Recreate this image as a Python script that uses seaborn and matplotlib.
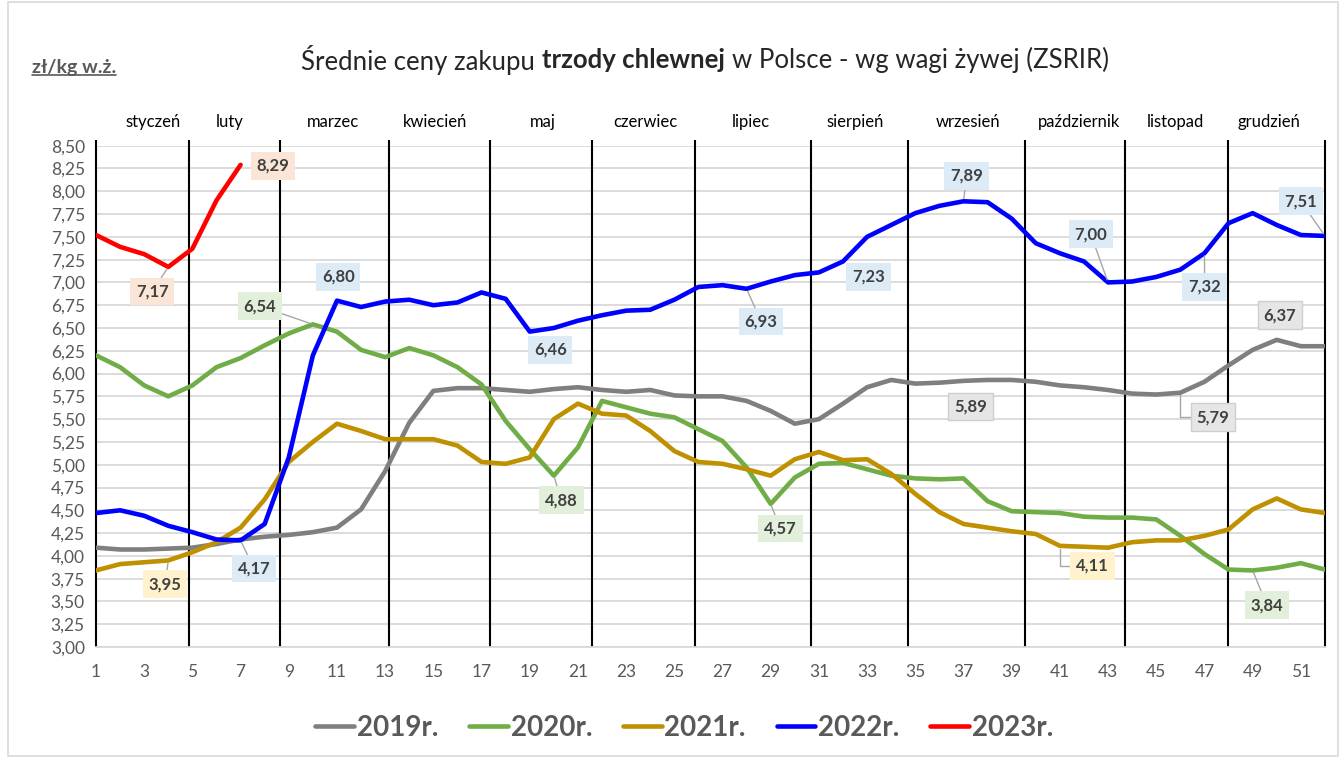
import numpy as np
import pandas as pd
import seaborn as sns
import matplotlib.pyplot as plt
from matplotlib.lines import Line2D
from matplotlib.patches import Rectangle
from matplotlib.ticker import FuncFormatter

# Tygodnie roku i średnie ceny (zł/kg w.ż.)
tygodnie = list(range(1, 53))

ceny_2019 = [4.09, 4.07, 4.07, 4.08, 4.09, 4.13, 4.18, 4.21, 4.23, 4.26,
             4.31, 4.51, 4.93, 5.46, 5.81, 5.84, 5.84, 5.82, 5.80, 5.83,
             5.85, 5.82, 5.80, 5.82, 5.76, 5.75, 5.75, 5.70, 5.59, 5.45,
             5.50, 5.67, 5.85, 5.93, 5.89, 5.90, 5.92, 5.93, 5.93, 5.91,
             5.87, 5.85, 5.82, 5.78, 5.77, 5.79, 5.91, 6.09, 6.26, 6.37,
             6.30, 6.30]
ceny_2020 = [6.20, 6.07, 5.87, 5.75, 5.87, 6.07, 6.17, 6.31, 6.44, 6.54,
             6.46, 6.26, 6.18, 6.28, 6.20, 6.07, 5.88, 5.48, 5.17, 4.88,
             5.19, 5.70, 5.63, 5.56, 5.52, 5.39, 5.26, 4.97, 4.57, 4.86,
             5.01, 5.02, 4.95, 4.88, 4.85, 4.84, 4.85, 4.60, 4.49, 4.48,
             4.47, 4.43, 4.42, 4.42, 4.40, 4.22, 4.02, 3.85, 3.84, 3.87,
             3.92, 3.85]
ceny_2021 = [3.84, 3.91, 3.93, 3.95, 4.04, 4.15, 4.31, 4.62, 5.03, 5.25,
             5.45, 5.37, 5.28, 5.28, 5.28, 5.21, 5.03, 5.01, 5.08, 5.50,
             5.67, 5.56, 5.54, 5.37, 5.15, 5.03, 5.01, 4.95, 4.88, 5.06,
             5.14, 5.05, 5.06, 4.90, 4.68, 4.48, 4.35, 4.31, 4.27, 4.24,
             4.11, 4.10, 4.09, 4.15, 4.17, 4.17, 4.22, 4.29, 4.51, 4.63,
             4.51, 4.47]
ceny_2022 = [4.47, 4.50, 4.44, 4.33, 4.26, 4.18, 4.17, 4.35, 5.08, 6.20,
             6.80, 6.73, 6.79, 6.81, 6.75, 6.78, 6.89, 6.82, 6.46, 6.50,
             6.58, 6.64, 6.69, 6.70, 6.81, 6.95, 6.97, 6.93, 7.01, 7.08,
             7.11, 7.23, 7.50, 7.63, 7.76, 7.84, 7.89, 7.88, 7.70, 7.43,
             7.32, 7.23, 7.00, 7.01, 7.06, 7.14, 7.32, 7.65, 7.76, 7.63,
             7.52, 7.51]
ceny_2023 = [7.52, 7.39, 7.31, 7.17, 7.37, 7.90, 8.29]

lata = ['2019r.', '2020r.', '2021r.', '2022r.', '2023r.']
kolory = ['#7F7F7F', '#70AD47', '#BF9000', '#0000FF', '#FF0000']
tla_etykiet = ['#E7E6E6', '#E2EFDA', '#FFF2CC', '#DDEBF7', '#FBE5D6']

miesiace = ['styczeń', 'luty', 'marzec', 'kwiecień', 'maj', 'czerwiec',
            'lipiec', 'sierpień', 'wrzesień', 'październik', 'listopad', 'grudzień']
srodki_miesiecy = [3.37, 6.56, 10.84, 15.08, 19.56, 23.8, 28.16, 32.52,
                   37.17, 41.78, 45.8, 49.67]
granice_miesiecy = [1, 4.86, 8.63, 13.16, 17.35, 21.58, 25.85, 30.67,
                    34.69, 39.55, 43.7, 47.97, 52]

# etykiety danych: (rok, tydzien, x tekstu, y tekstu, linia odniesienia)
etykiety = [
    ('2023r.', 7, 8.35, 8.28, None),
    ('2023r.', 4, 3.33, 6.90, 'prosta'),
    ('2020r.', 10, 7.81, 6.74, 'prosta'),
    ('2022r.', 11, 11.05, 7.06, None),
    ('2021r.', 4, 3.87, 3.69, 'prosta'),
    ('2022r.', 7, 7.56, 3.86, 'prosta'),
    ('2022r.', 19, 19.85, 6.26, None),
    ('2022r.', 28, 28.6, 6.57, 'prosta'),
    ('2022r.', 32, 33.06, 7.06, None),
    ('2020r.', 20, 20.31, 4.61, 'prosta'),
    ('2020r.', 29, 29.4, 4.30, 'prosta'),
    ('2022r.', 37, 37.13, 8.17, 'prosta'),
    ('2022r.', 43, 42.28, 7.53, 'prosta'),
    ('2022r.', 52, 51.0, 7.89, 'prosta'),
    ('2022r.', 47, 47.01, 6.95, 'prosta'),
    ('2019r.', 50, 50.13, 6.64, None),
    ('2019r.', 35, 37.3, 5.64, None),
    ('2019r.', 46, 47.35, 5.52, 'lamana'),
    ('2021r.', 41, 42.36, 3.89, 'lamana'),
    ('2020r.', 49, 49.59, 3.46, 'prosta'),
]

dane = {'2019r.': ceny_2019, '2020r.': ceny_2020, '2021r.': ceny_2021,
        '2022r.': ceny_2022, '2023r.': ceny_2023}

sns.set_theme(style='white')
plt.rcParams['font.family'] = ['Lato', 'DejaVu Sans']

fig = plt.figure(figsize=(13.39, 7.58), dpi=100)
ax = fig.add_axes([0.0717, 0.1464, 0.9178, 0.6614])

# pionowe linie granic miesiecy
ax.vlines(granice_miesiecy, 3.0, 8.56, colors='black', lw=1.5,
          clip_on=False, zorder=1.5)

for rok, kolor in zip(lata, kolory):
    wartosci = dane[rok]
    sns.lineplot(x=tygodnie[:len(wartosci)], y=wartosci, color=kolor, lw=3.3,
                 ax=ax, label=rok, solid_capstyle='round',
                 solid_joinstyle='round', zorder=3)

ax.set_xlim(1, 52)
ax.set_ylim(3.0, 8.5)
ax.set_yticks(np.arange(3.0, 8.51, 0.25))
ax.set_xticks(range(1, 52, 2))
ax.yaxis.set_major_formatter(FuncFormatter(lambda v, _: f'{v:.2f}'.replace('.', ',')))
ax.yaxis.grid(True, color='#D9D9D9', lw=1.3)
ax.set_axisbelow(True)
for s in ['top', 'right', 'left']:
    ax.spines[s].set_visible(False)
ax.spines['bottom'].set_color('#D9D9D9')
ax.spines['bottom'].set_linewidth(1.3)
ax.tick_params(axis='both', length=0, labelsize=12.5, labelcolor='#595959')
ax.tick_params(axis='x', pad=12)
ax.tick_params(axis='y', pad=8)
ax.set_xlabel('')
ax.set_ylabel('')

for nazwa, poz in zip(miesiace, srodki_miesiecy):
    ax.text(poz, 8.76, nazwa, ha='center', va='center', fontsize=12,
            color='black', clip_on=False)

for rok, tydz, tx, ty, linia in etykiety:
    wart = dane[rok][tydz - 1]
    i = lata.index(rok)
    ramka = dict(boxstyle='square,pad=0.35', fc=tla_etykiet[i],
                 ec='#D0CECE' if rok == '2019r.' else 'none', lw=1)
    strzalka = None
    if linia == 'prosta':
        strzalka = dict(arrowstyle='-', color='#A6A6A6', lw=1, shrinkA=0, shrinkB=2)
    elif linia == 'lamana':
        strzalka = dict(arrowstyle='-', color='#A6A6A6', lw=1, shrinkA=0, shrinkB=2,
                        connectionstyle='angle,angleA=0,angleB=90,rad=0')
    ax.annotate(f'{wart:.2f}'.replace('.', ','), xy=(tydz, wart), xytext=(tx, ty),
                ha='center', va='center', fontsize=12, fontweight='bold',
                color='#404040', bbox=ramka, arrowprops=strzalka, zorder=5,
                annotation_clip=False)

uchwyty, nazwy = ax.get_legend_handles_labels()
ax.get_legend().remove()
fig.legend(uchwyty, nazwy, loc='center', bbox_to_anchor=(0.511, 1 - 728 / 758),
           ncol=5, frameon=False, prop=dict(weight='bold', size=20),
           labelcolor='#595959', handlelength=1.4, handletextpad=0.1,
           columnspacing=1.1)

# tytul z pogrubionym fragmentem
r = fig.canvas.get_renderer()
rozmiar = 18.5
czesci = [('Średnie ceny zakupu', 'normal'), ('trzody chlewnej', 'bold'),
          ('w Polsce - wg wagi żywej (ZSRIR)', 'normal')]
teksty = [fig.text(0, 1 - 60 / 758, t, fontsize=rozmiar, fontweight=w, color='#262626',
                   va='center') for t, w in czesci]
pom1 = fig.text(0, 0, 'x x', fontsize=rozmiar)
pom2 = fig.text(0, 0, 'xx', fontsize=rozmiar)
spacja = pom1.get_window_extent(r).width - pom2.get_window_extent(r).width
pom1.remove()
pom2.remove()
szer = [t.get_window_extent(r).width for t in teksty]
x = 705 - (sum(szer) + 2 * spacja) / 2
for t, s in zip(teksty, szer):
    t.set_x(x / 1339)
    x += s + spacja

# jednostka z podkresleniem
jedn = fig.text(32 / 1339, 1 - 68 / 758, 'zł/kg w.ż.', fontsize=14,
                fontweight='bold', color='#595959', va='center')
bb = jedn.get_window_extent(r)
fig.add_artist(Line2D([bb.x0 / 1339, bb.x1 / 1339], [(bb.y0 + 2) / 758] * 2,
                      color='#595959', lw=1.2, transform=fig.transFigure))

fig.add_artist(Rectangle((8 / 1339, 0.002), 1 - 9 / 1339, 0.995, fill=False,
                         ec='#D9D9D9', lw=1.2, transform=fig.transFigure))

fig.savefig('out.png', dpi=100)
